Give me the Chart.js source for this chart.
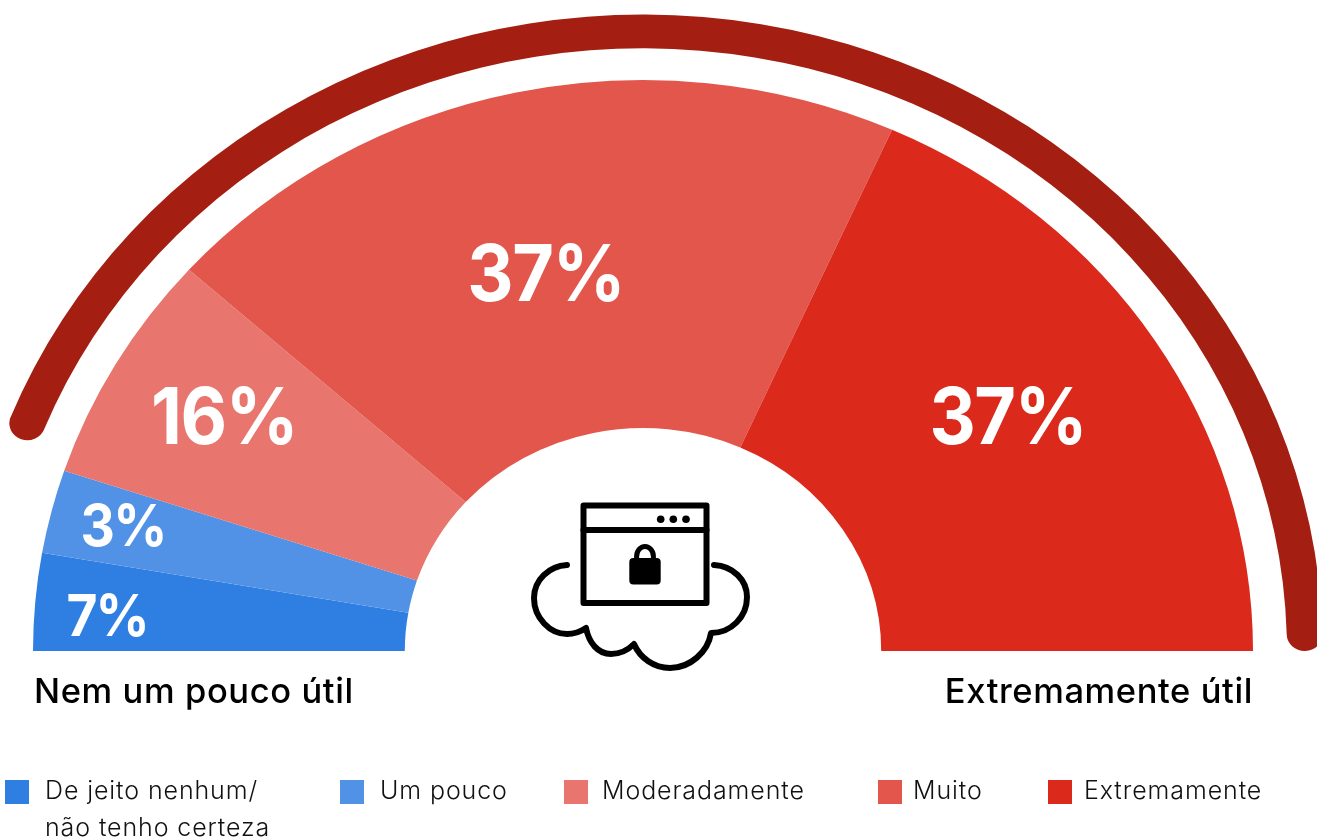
<!DOCTYPE html>
<html lang="pt">
<head>
<meta charset="utf-8">
<script src="https://cdn.jsdelivr.net/npm/chart.js@4/dist/chart.umd.min.js"></script>
<style>
  html,body{margin:0;padding:0;background:#fff;}
  #stage{position:relative;width:1317px;height:839px;overflow:hidden;font-family:Inter,sans-serif;}
  canvas{position:absolute;}
  #arcCanvas{left:-37px;top:-29px;}
  #mainCanvas{left:33px;top:41px;}
  svg{position:absolute;left:0;top:0;}
  .end{position:absolute;top:670px;font-size:34.5px;font-weight:500;line-height:41px;letter-spacing:.6px;color:#000;white-space:nowrap;}
  .sw{position:absolute;top:780px;width:24px;height:24px;}
  .lg{position:absolute;top:772px;font-size:25px;font-weight:350;line-height:37px;letter-spacing:.9px;color:#111;white-space:pre;}
</style>
</head>
<body>
<div id="stage">
  <canvas id="arcCanvas" width="1360" height="1360"></canvas>
  <canvas id="mainCanvas" width="1220" height="610"></canvas>
  <svg width="1317" height="839" fill="none" stroke="#000" stroke-width="6" stroke-linecap="round" stroke-linejoin="round">
    <rect x="583.5" y="505.5" width="123" height="97.5"/>
    <path d="M583.5 530H706.5"/>
    <circle cx="660.7" cy="519.3" r="3.8" fill="#000" stroke="none"/>
    <circle cx="673.3" cy="519.3" r="3.8" fill="#000" stroke="none"/>
    <circle cx="686" cy="519.3" r="3.8" fill="#000" stroke="none"/>
    <rect x="629.3" y="558" width="31.4" height="26.5" rx="4" fill="#000" stroke="none"/>
    <path d="M636.6 560V556.5A8.4 10 0 0 1 653.4 556.5V560" stroke-width="5"/>
    <path d="M567 565C549 566 534 580 534 598C534 618 550 634 567 634C574 634 580 632 586 628C589 643 598 654 611 654C620 654 628 650 634 644C640 658 654 668 670 668C690 668 708 652 711 633C731 633 747 617 747 597C747 580 733 566 714 565"/>
  </svg>
  <div class="end" id="endL" style="left:34px"></div>
  <div class="end" id="endR" style="right:64px"></div>
  <div id="legend"></div>
</div>
<script>
// Legend categories and the percentages printed on the slices.
const categories = ["De jeito nenhum/\nnão tenho certeza", "Um pouco", "Moderadamente", "Muito", "Extremamente"];
const percentLabels = ["7%", "3%", "16%", "37%", "37%"];
// Angular sweep of each slice as actually drawn in the picture, in degrees of the half circle
// (the picture's slices are not proportional to their printed percentages).
const drawnSweepDegrees = [9.9, 8.5, 23.5, 72.2, 65.9];
const sliceColors = ["#2F7FE3", "#5192E6", "#E8766E", "#E2564C", "#DB291C"];
const scaleEnds = ["Nem um pouco útil", "Extremamente útil"];
// Decorative outer band: drawn sweep and the empty remainder of the circle, in degrees.
const bandSweepDegrees = [160, 200];

const verticalSquash = 0.936;
const labelAngles = [3.84, 13.62, 29.3, 75.6, 147.2];
const labelRadii = [537, 535, 480.4, 391, 434];
const labelSizes = [58, 58, 78, 78, 78];
const labelTracking = [-2, -2, -1.5, -1.5, -1.5];
const labelDrop = [3.5, 3.5, 5, 5, 5];
const labelNarrowing = 0.92;
const legendSwatchX = [5, 340, 564, 878, 1048];
const legendTextX = [45, 380, 602, 913, 1084];

// The whole gauge is a half circle flattened vertically about its centre.
const squash = {
  id: "squash",
  beforeDatasetsDraw(chart) {
    const arc = chart.getDatasetMeta(0).data[0];
    const ctx = chart.ctx;
    ctx.save();
    ctx.translate(0, arc.y);
    ctx.scale(1, verticalSquash);
    ctx.translate(0, -arc.y);
  },
  afterDatasetsDraw(chart) { chart.ctx.restore(); }
};

const sliceLabels = {
  id: "sliceLabels",
  afterDraw(chart) {
    const ctx = chart.ctx;
    const arcs = chart.getDatasetMeta(0).data;
    ctx.save();
    ctx.fillStyle = "#fff";
    ctx.textAlign = "center";
    ctx.textBaseline = "middle";
    arcs.forEach((arc, i) => {
      const a = labelAngles[i] * Math.PI / 180;
      ctx.save();
      ctx.translate(arc.x - labelRadii[i] * Math.cos(a), arc.y - labelRadii[i] * Math.sin(a) + labelDrop[i]);
      ctx.scale(labelNarrowing, 1);
      ctx.font = "700 " + labelSizes[i] + "px Inter";
      ctx.letterSpacing = labelTracking[i] + "px";
      ctx.fillText(percentLabels[i], 0, 0);
      ctx.restore();
    });
    ctx.restore();
  }
};

new Chart(document.getElementById("mainCanvas"), {
  type: "doughnut",
  data: { labels: categories, datasets: [{ data: drawnSweepDegrees, backgroundColor: sliceColors, borderWidth: 0 }] },
  options: {
    responsive: false, animation: false, devicePixelRatio: 1,
    rotation: -90, circumference: 180, cutout: "39.05%",
    layout: { padding: 0 },
    plugins: { legend: { display: false }, tooltip: { enabled: false } }
  },
  plugins: [squash, sliceLabels]
});

new Chart(document.getElementById("arcCanvas"), {
  type: "doughnut",
  data: { labels: ["band", ""], datasets: [{ data: bandSweepDegrees, backgroundColor: ["#A41F12", "rgba(0,0,0,0)"], borderWidth: 0, borderRadius: [18, 0] }] },
  options: {
    responsive: false, animation: false, devicePixelRatio: 1,
    rotation: -70, cutout: "94.7%",
    layout: { padding: 0 },
    plugins: { legend: { display: false }, tooltip: { enabled: false } }
  },
  plugins: [squash]
});

document.getElementById("endL").textContent = scaleEnds[0];
document.getElementById("endR").textContent = scaleEnds[1];
const legend = document.getElementById("legend");
categories.forEach((c, i) => {
  const s = document.createElement("div");
  s.className = "sw"; s.style.left = legendSwatchX[i] + "px"; s.style.background = sliceColors[i];
  const t = document.createElement("div");
  t.className = "lg"; t.style.left = legendTextX[i] + "px"; t.textContent = c;
  legend.append(s, t);
});
</script>
</body>
</html>
